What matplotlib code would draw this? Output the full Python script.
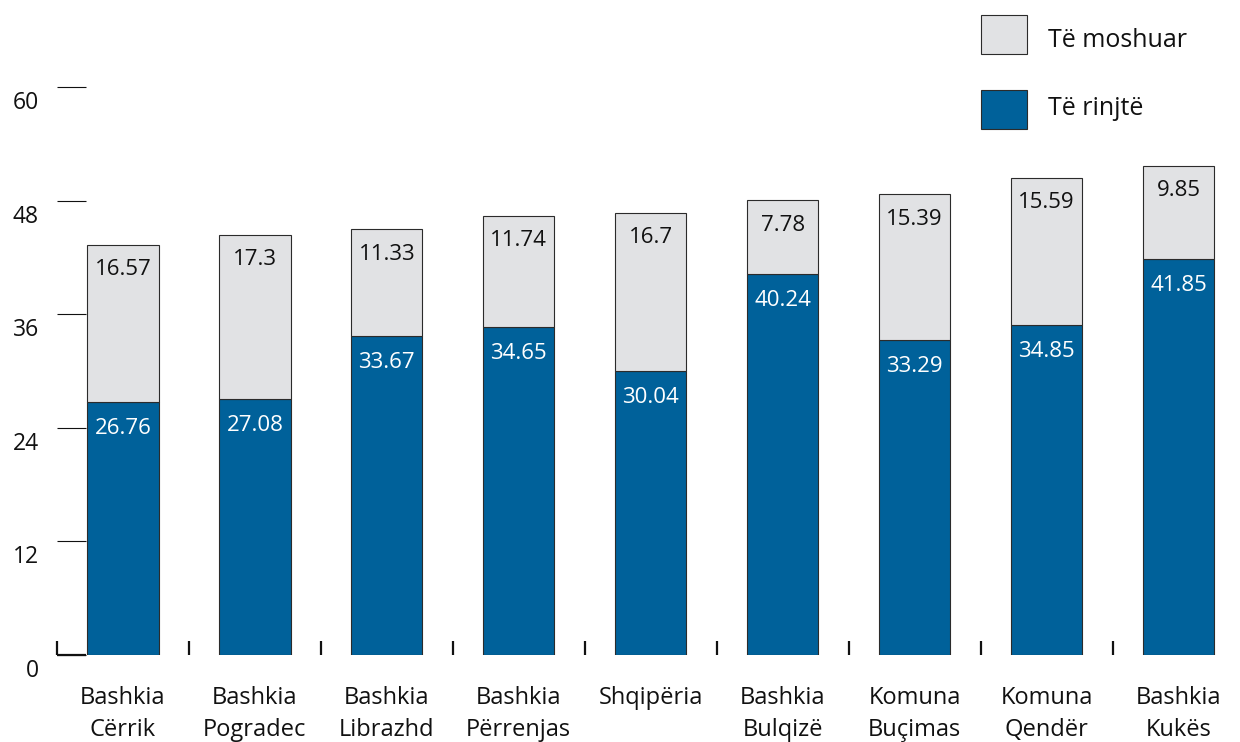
import matplotlib.pyplot as plt
import matplotlib.transforms as mtransforms
from matplotlib.patches import Rectangle

plt.rcParams['font.family'] = ['Open Sans', 'DejaVu Sans']

# Dependency ratios by municipality
places = ["Bashkia\nCërrik", "Bashkia\nPogradec", "Bashkia\nLibrazhd",
          "Bashkia\nPërrenjas", "Shqipëria", "Bashkia\nBulqizë",
          "Komuna\nBuçimas", "Komuna\nQendër", "Bashkia\nKukës"]
young = [26.76, 27.08, 33.67, 34.65, 30.04, 40.24, 33.29, 34.85, 41.85]
old = [16.57, 17.3, 11.33, 11.74, 16.7, 7.78, 15.39, 15.59, 9.85]
yticks = [0, 12, 24, 36, 48, 60]
series = ['Të moshuar', 'Të rinjtë']

blue = '#00619a'
grey = '#e1e2e4'
edge = '#2b2b2b'
ink = '#111111'

fig = plt.figure(figsize=(12.4, 7.42), dpi=100)
ax = fig.add_axes([57 / 1240, 1 - 655 / 742, 1 - 57 / 1240, (655 - 87) / 742])

x = list(range(len(places)))
w = 0.54
ax.bar(x, young, width=w, color=blue, edgecolor=edge, linewidth=0.8)
ax.bar(x, old, width=w, bottom=young, color=grey, edgecolor=edge, linewidth=0.8)

# value labels just under the top of each segment
for i in x:
    ax.annotate(f"{young[i]:g}", (i, young[i]), xytext=(0, -19), textcoords='offset points',
                ha='center', va='center', color='white', fontsize=16)
    ax.annotate(f"{old[i]:g}", (i, young[i] + old[i]), xytext=(0, -18), textcoords='offset points',
                ha='center', va='center', color=ink, fontsize=16)

ax.set_xlim(-0.5, 8.466)
ax.set_ylim(0, 60)
for s in ax.spines.values():
    s.set_visible(False)

# y axis: short inward dashes, labels sitting a bit below each dash
ax.set_yticks(yticks)
ax.set_yticklabels([str(v) for v in yticks], fontsize=16.5, color=ink)
ax.tick_params(axis='y', direction='in', length=21, width=0.8, color=ink, pad=13)
shift = mtransforms.ScaledTranslation(0, -13 / 100, fig.dpi_scale_trans)
for lab in ax.get_yticklabels():
    lab.set_transform(lab.get_transform() + shift)

# x axis: separators between the bars, names under the bars
ax.set_xticks(x)
ax.set_xticklabels(places, fontsize=17, linespacing=1.45, color=ink)
ax.tick_params(axis='x', which='major', length=0, pad=22)
ax.set_xticks([i - 0.5 for i in x], minor=True)
ax.tick_params(axis='x', which='minor', direction='in', length=10, width=1.6, color=ink)
ax.plot([-0.5, -0.5 + 29 / 132], [0, 0], color=ink, lw=1.6, clip_on=False, solid_capstyle='butt')

# legend drawn as two swatches in the top right corner
for (name, col, top, base) in zip(series, [grey, blue], [15, 90], [47, 115]):
    fig.add_artist(Rectangle((981 / 1240, 1 - (top + 39) / 742), 46 / 1240, 39 / 742,
                             transform=fig.transFigure, facecolor=col, edgecolor=edge, linewidth=0.8))
    fig.text(1048 / 1240, 1 - base / 742, name, fontsize=18, color=ink, va='baseline', ha='left')

fig.savefig('out.png', dpi=100)
